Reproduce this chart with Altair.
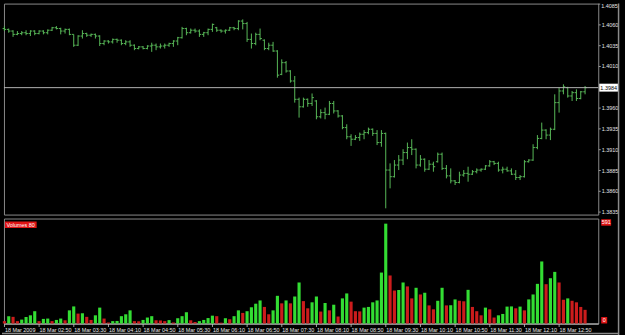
import json
import altair as alt
import pandas as pd

# ---------------- data ----------------
BASE = 1.38  # prices below are stored as pips above 1.3800

OPEN_PIPS = [
    255, 254, 252, 248, 249, 250, 249, 252, 249, 252,
    250, 253, 256, 255, 252, 254, 248, 235, 246, 249,
    247, 248, 246, 237, 240, 239, 242, 241, 237, 239,
    235, 231, 233, 231, 234, 235, 233, 234, 235, 237,
    240, 244, 255, 250, 253, 252, 248, 250, 254, 256,
    253, 252, 253, 256, 255, 264, 261, 242, 237, 248,
    241, 231, 235, 228, 200, 214, 204, 192, 170, 161,
    170, 165, 168, 149, 154, 152, 165, 156, 150, 136,
    125, 122, 124, 128, 130, 134, 129, 118, 129, 85,
    77, 91, 97, 106, 112, 110, 91, 98, 86, 92,
    95, 104, 87, 78, 72, 70, 79, 81, 80, 83,
    85, 86, 90, 95, 93, 85, 86, 84, 80, 76,
    77, 95, 97, 112, 123, 133, 127, 134, 166, 180,
    184, 174, 178, 171, 179,
]
HIGH_PIPS = [
    258, 255, 253, 252, 252, 253, 253, 253, 253, 253,
    254, 257, 258, 256, 255, 255, 248, 247, 253, 250,
    249, 249, 247, 241, 241, 243, 243, 242, 241, 241,
    236, 234, 234, 235, 238, 237, 237, 237, 238, 241,
    245, 257, 256, 255, 255, 254, 251, 255, 261, 257,
    254, 254, 257, 257, 265, 266, 263, 249, 250, 255,
    242, 238, 239, 229, 218, 216, 205, 198, 172, 172,
    171, 177, 169, 158, 160, 168, 168, 157, 151, 140,
    128, 127, 130, 133, 136, 135, 133, 133, 130, 93,
    97, 103, 110, 118, 122, 111, 103, 99, 97, 95,
    106, 106, 91, 87, 73, 83, 85, 89, 85, 87,
    87, 91, 97, 96, 95, 89, 89, 87, 85, 79,
    97, 98, 116, 127, 142, 134, 136, 176, 184, 188,
    185, 180, 182, 180, 186,
]
LOW_PIPS = [
    252, 250, 245, 247, 247, 247, 246, 247, 248, 248,
    248, 252, 254, 248, 249, 247, 233, 234, 243, 245,
    245, 243, 234, 235, 237, 237, 238, 235, 235, 233,
    229, 230, 230, 230, 227, 229, 231, 231, 233, 233,
    235, 243, 247, 249, 250, 245, 245, 247, 251, 251,
    250, 249, 252, 253, 253, 254, 239, 231, 235, 241,
    229, 229, 227, 196, 199, 202, 190, 166, 148, 160,
    161, 162, 146, 147, 146, 151, 153, 148, 134, 122,
    114, 121, 120, 122, 128, 126, 115, 113, 39, 63,
    76, 85, 91, 98, 103, 87, 89, 83, 85, 83,
    94, 85, 75, 69, 67, 69, 77, 71, 79, 81,
    83, 85, 89, 91, 83, 81, 83, 79, 73, 73,
    76, 94, 96, 110, 122, 122, 121, 133, 154, 176,
    172, 168, 168, 170, 176,
]
CLOSE_PIPS = [
    254, 252, 248, 249, 250, 249, 252, 249, 252, 250,
    253, 256, 255, 252, 254, 248, 235, 246, 249, 247,
    248, 246, 237, 240, 239, 242, 241, 237, 239, 235,
    231, 233, 231, 234, 235, 233, 234, 235, 237, 240,
    244, 255, 250, 253, 252, 248, 250, 254, 260, 253,
    252, 253, 256, 255, 264, 261, 242, 237, 248, 243,
    231, 235, 228, 199, 214, 204, 192, 170, 161, 170,
    165, 172, 149, 154, 152, 165, 156, 150, 136, 125,
    122, 124, 128, 130, 134, 129, 118, 129, 85, 77,
    91, 97, 106, 112, 110, 91, 98, 86, 92, 89,
    104, 87, 78, 72, 70, 79, 81, 80, 83, 85,
    86, 90, 95, 93, 85, 86, 84, 80, 76, 77,
    95, 97, 112, 123, 133, 127, 134, 166, 180, 185,
    174, 178, 171, 179, 184,
]
VOLUMES = [
    14, 43, 39, 14, 23, 38, 48, 72, 14, 27,
    29, 14, 21, 29, 19, 77, 100, 58, 60, 39,
    21, 48, 93, 29, 6, 14, 15, 43, 54, 77,
    14, 13, 21, 35, 43, 19, 18, 14, 20, 6,
    31, 43, 66, 19, 9, 14, 21, 32, 46, 43,
    5, 31, 25, 43, 77, 62, 72, 95, 116, 135,
    97, 54, 77, 162, 118, 135, 118, 158, 240, 131,
    89, 124, 158, 70, 120, 77, 110, 41, 147, 176,
    128, 72, 71, 93, 97, 124, 135, 298, 584, 281,
    193, 196, 240, 217, 147, 209, 170, 180, 106, 83,
    133, 209, 106, 107, 141, 133, 130, 197, 97, 72,
    48, 93, 83, 35, 48, 56, 99, 100, 89, 99,
    77, 141, 170, 232, 363, 230, 265, 302, 240, 139,
    147, 133, 124, 97, 80,
]
TIME_LABELS = [
    "18 Mar 2009", "18 Mar 02:50", "18 Mar 03:30", "18 Mar 04:10",
    "18 Mar 04:50", "18 Mar 05:30", "18 Mar 06:10", "18 Mar 06:50",
    "18 Mar 07:30", "18 Mar 08:10", "18 Mar 08:50", "18 Mar 09:30",
    "18 Mar 10:10", "18 Mar 10:50", "18 Mar 11:30", "18 Mar 12:10",
    "18 Mar 12:50",
]
TIME_TICKS = [8 * k for k in range(len(TIME_LABELS))]
PRICE_TICKS = [1.3835, 1.3860, 1.3885, 1.3910, 1.3935, 1.3960,
               1.4010, 1.4035, 1.4060]
PRICE_TOP = 1.4085
VOL_AXIS_MAX = 591

# ---------------- style ----------------
FONT = "Liberation Sans"
BAR_GREEN = "#58b858"
VOL_GREEN = "#33dd33"
VOL_RED = "#cc1c1c"
LABEL_RED = "#e01414"
FRAME = "#8a8a8a"
TEXT = "#e6e6e6"

N = len(CLOSE_PIPS)


def to_price(p):
    return round(BASE + p / 10000.0, 4)


df = pd.DataFrame({
    "i": list(range(N)),
    "open": [to_price(p) for p in OPEN_PIPS],
    "high": [to_price(p) for p in HIGH_PIPS],
    "low": [to_price(p) for p in LOW_PIPS],
    "close": [to_price(p) for p in CLOSE_PIPS],
    "vol": VOLUMES,
})
df["dir"] = ["down"] + ["up" if VOLUMES[k] > VOLUMES[k - 1] else "down"
                        for k in range(1, N)]

x_scale = alt.Scale(domain=[-0.1, 137.04], nice=False, zero=False, padding=0)
p_scale = alt.Scale(domain=[1.38315, PRICE_TOP], nice=False, zero=False, padding=0)
v_scale = alt.Scale(domain=[0, 614], nice=False, zero=False, padding=0)

price_axis = alt.Axis(
    orient="right", values=PRICE_TICKS, format=".4f", labelFont=FONT,
    labelFontSize=5.5, labelColor=TEXT, tickColor="#9a9a9a", tickSize=2,
    labelPadding=1, domain=False, grid=False, title=None, labelFlush=False,
    labelOverlap=False,
)
time_axis = alt.Axis(
    values=TIME_TICKS,
    labelExpr=json.dumps(TIME_LABELS) + "[round(datum.value / 8)]",
    labelAlign="left", labelBaseline="top", labelFont=FONT, labelFontSize=5.5,
    labelColor=TEXT, tickColor="#a0a0a0", tickSize=3, labelPadding=1,
    domainColor="#c8c8c8", grid=False, title=None, labelFlush=False,
    labelOverlap=False,
)

base = alt.Chart(df)

# ---------- price panel ----------
hl = base.mark_rule(color=BAR_GREEN, strokeWidth=1).encode(
    x=alt.X("i:Q", scale=x_scale, axis=None),
    y=alt.Y("low:Q", scale=p_scale, axis=price_axis),
    y2="high:Q",
)
opens = base.transform_calculate(xo="datum.i - 0.42").mark_rule(
    color=BAR_GREEN, strokeWidth=1).encode(
    x=alt.X("xo:Q", scale=x_scale, axis=None), x2="i:Q",
    y=alt.Y("open:Q", scale=p_scale, axis=price_axis),
)
closes = base.transform_calculate(xc="datum.i + 0.42").mark_rule(
    color=BAR_GREEN, strokeWidth=1).encode(
    x=alt.X("i:Q", scale=x_scale, axis=None), x2="xc:Q",
    y=alt.Y("close:Q", scale=p_scale, axis=price_axis),
)

last_price = df["close"].iloc[-1]
last_df = pd.DataFrame({"price": [last_price], "label": [f"{last_price:.4f}"]})
cur = alt.Chart(last_df)
cur_line = cur.mark_rule(color="#b4b4b4", strokeWidth=1).encode(
    y=alt.Y("price:Q", scale=p_scale, axis=price_axis),
    x=alt.value(0), x2=alt.value(600),
)
cur_box = cur.mark_rule(color="#ffffff", strokeWidth=8).encode(
    x=alt.value(601), x2=alt.value(620),
    y=alt.Y("price:Q", scale=p_scale, axis=price_axis),
)
cur_text = cur.mark_text(color="#000000", font=FONT, fontSize=5.5,
                         align="center", baseline="middle").encode(
    x=alt.value(610.5),
    y=alt.Y("price:Q", scale=p_scale, axis=price_axis),
    text="label:N",
)

top_df = pd.DataFrame({"p": [PRICE_TOP], "t": [f"{PRICE_TOP:.4f}"]})
top_tick = alt.Chart(top_df).mark_rule(color="#9a9a9a", strokeWidth=1).encode(
    x=alt.value(600), x2=alt.value(602),
    y=alt.Y("p:Q", scale=p_scale, axis=price_axis), yOffset=alt.value(0.5))
top_txt = alt.Chart(top_df).mark_text(
    align="left", baseline="top", color=TEXT, font=FONT, fontSize=5.5
).encode(x=alt.value(603), y=alt.Y("p:Q", scale=p_scale, axis=price_axis),
         text="t:N")

price_panel = alt.layer(
    hl, opens, closes, cur_line, cur_box, cur_text, top_tick, top_txt
).properties(width=600, height=213)

# ---------- volume panel ----------
vol_bars = base.transform_calculate(
    x0="datum.i - 0.36", x1="datum.i + 0.36"
).mark_rect(strokeWidth=0).encode(
    x=alt.X("x0:Q", scale=x_scale, axis=time_axis), x2="x1:Q",
    y=alt.Y("vol:Q", scale=v_scale, axis=None), y2=alt.datum(0),
    color=alt.Color("dir:N", scale=alt.Scale(domain=["up", "down"],
                                             range=[VOL_GREEN, VOL_RED]),
                    legend=None),
)

ind_df = pd.DataFrame({"t": [f"Volumes {VOLUMES[-1]}"]})
ind_box = alt.Chart(ind_df).mark_rule(color=LABEL_RED, strokeWidth=6.5).encode(
    x=alt.value(1), x2=alt.value(33), y=alt.value(6.2))
ind_txt = alt.Chart(ind_df).mark_text(
    align="left", baseline="middle", color="#ffffff", font=FONT, fontSize=5.5
).encode(x=alt.value(2.5), y=alt.value(6.4), text="t:N")

max_df = pd.DataFrame({"v": [VOL_AXIS_MAX], "t": [str(VOL_AXIS_MAX)]})
max_box = alt.Chart(max_df).mark_rule(color=LABEL_RED, strokeWidth=6.5).encode(
    x=alt.value(603), x2=alt.value(613),
    y=alt.Y("v:Q", scale=v_scale, axis=None))
max_txt = alt.Chart(max_df).mark_text(
    align="center", baseline="middle", color="#ffffff", font=FONT, fontSize=5.5
).encode(x=alt.value(608), y=alt.Y("v:Q", scale=v_scale, axis=None), text="t:N")

zero_df = pd.DataFrame({"v": [0], "t": ["0"]})
zero_box = alt.Chart(zero_df).mark_rule(color=LABEL_RED, strokeWidth=6.5).encode(
    x=alt.value(603), x2=alt.value(609),
    y=alt.Y("v:Q", scale=v_scale, axis=None), yOffset=alt.value(-3.3))
zero_txt = alt.Chart(zero_df).mark_text(
    align="center", baseline="middle", color="#ffffff", font=FONT, fontSize=5.5,
    dy=-3.1,
).encode(x=alt.value(606), y=alt.Y("v:Q", scale=v_scale, axis=None), text="t:N")

frame_df = pd.DataFrame({"k": [0]})
bottom_line = alt.Chart(frame_df).mark_rule(color=FRAME, strokeWidth=1.5).encode(
    x=alt.value(-2), x2=alt.value(621), y=alt.value(116))
right_line = alt.Chart(frame_df).mark_rule(color=FRAME, strokeWidth=1.5).encode(
    x=alt.value(620.5), y=alt.value(-217), y2=alt.value(118))

vol_panel = alt.layer(
    vol_bars, ind_box, ind_txt, max_box, max_txt, zero_box, zero_txt,
    bottom_line, right_line,
).properties(width=600, height=106)

chart = alt.vconcat(price_panel, vol_panel, spacing=4, bounds="flush").properties(
    padding={"left": 0, "top": 0, "right": 2, "bottom": 0},
    background="#000000",
).configure_view(stroke=FRAME, strokeWidth=1)

chart.save("out.html", embed_options={"renderer": "svg", "actions": False})
